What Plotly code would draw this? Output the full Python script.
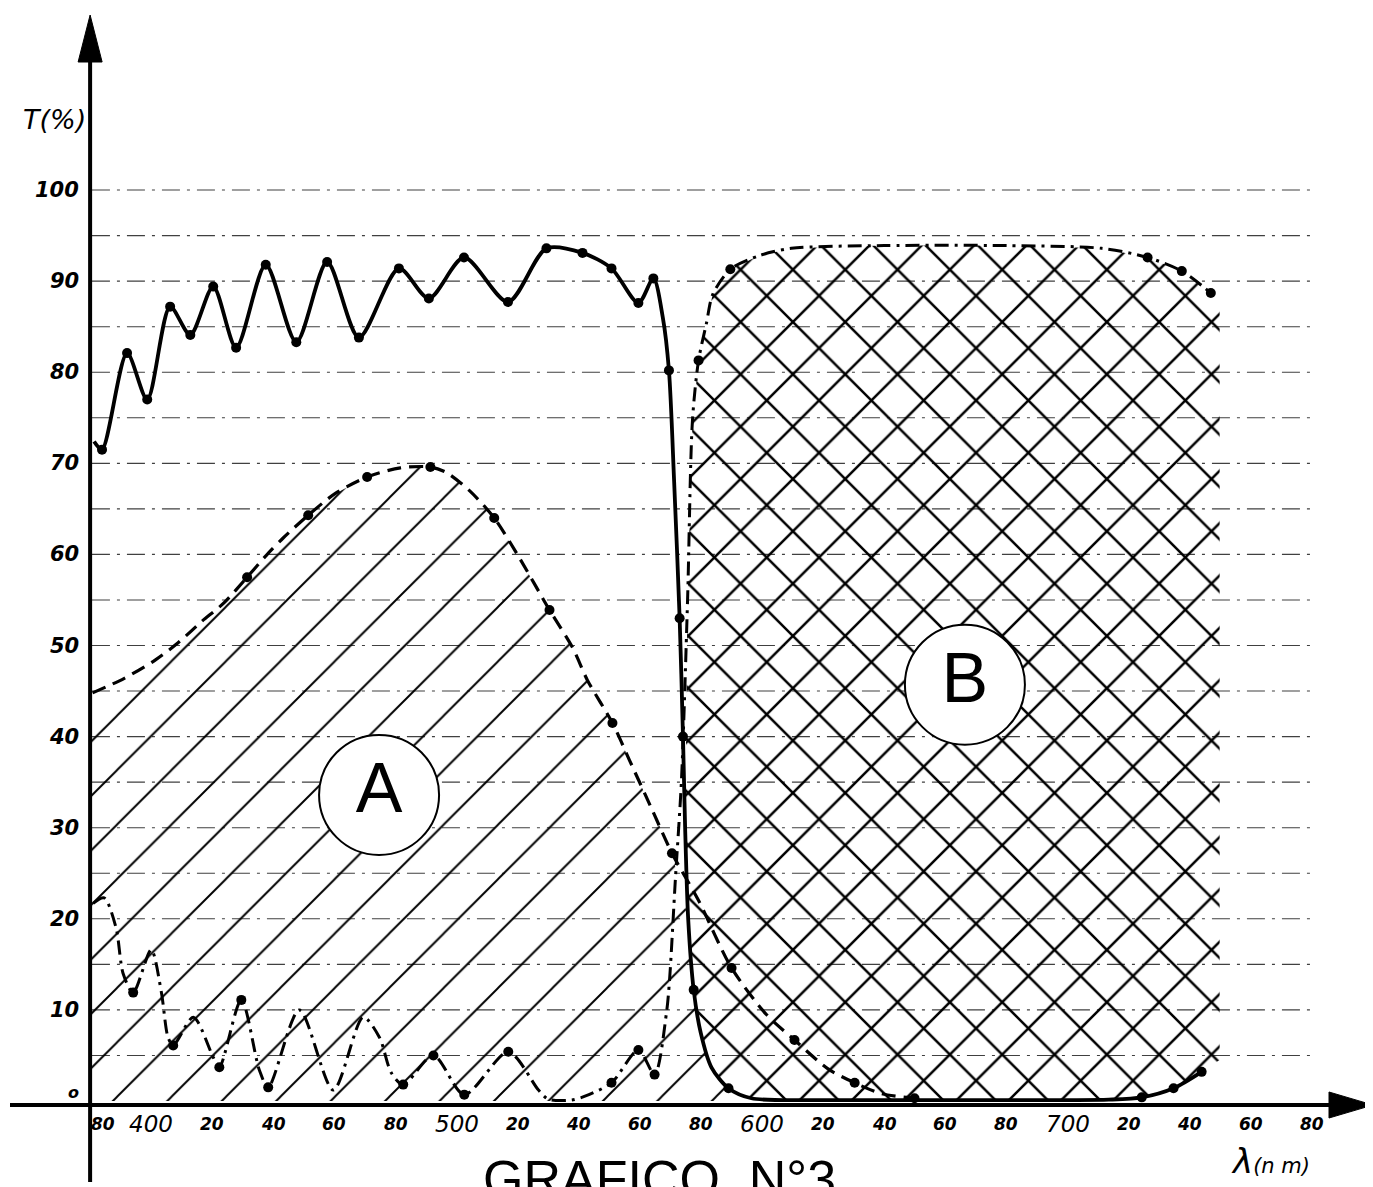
import plotly.graph_objects as go

# ---------------- data ----------------
x_tick_values = list(range(380, 781, 20))
x_tick_labels = ["80", "400", "20", "40", "60", "80", "500", "20", "40", "60", "80",
                 "600", "20", "40", "60", "80", "700", "20", "40", "60", "80"]
y_tick_values = [0, 10, 20, 30, 40, 50, 60, 70, 80, 90, 100]
y_tick_labels = ["o", "10", "20", "30", "40", "50", "60", "70", "80", "90", "100"]
grid_values = list(range(5, 101, 5))

# solid curve (high transmission, sharp cut near 575 nm)
solid_wl = [381.3, 383.9, 392.1, 398.7, 406.2, 412.8, 420.3, 427.8, 437.5, 447.5,
            457.6, 468.0, 481.1, 490.9, 502.4, 516.8, 529.4, 541.2, 550.7, 559.5,
            564.4, 567.5, 569.5, 571.2, 573.0, 574.1, 574.8, 575.8, 577.6, 579.9,
            583.4, 589.0, 596.5, 620.0, 660.0, 700.0, 713.5, 724.3, 734.7, 743.9]
solid_T = [72.4, 71.5, 82.1, 77.0, 87.2, 84.1, 89.4, 82.7, 91.8, 83.3,
           92.1, 83.8, 91.4, 88.1, 92.6, 87.7, 93.6, 93.1, 91.4, 87.6,
           90.3, 86.0, 80.2, 68.0, 53.0, 40.0, 30.0, 20.0, 12.2, 7.5,
           3.7, 1.4, 0.3, 0.1, 0.1, 0.1, 0.15, 0.4, 1.4, 3.2]
solid_pts_wl = [383.9, 392.1, 398.7, 406.2, 412.8, 420.3, 427.8, 437.5, 447.5, 457.6,
                468.0, 481.1, 490.9, 502.4, 516.8, 529.4, 541.2, 550.7, 559.5, 564.4,
                569.5, 573.0, 574.1, 577.6, 589.0, 724.3, 734.7, 743.9]
solid_pts_T = [71.5, 82.1, 77.0, 87.2, 84.1, 89.4, 82.7, 91.8, 83.3, 92.1,
               83.8, 91.4, 88.1, 92.6, 87.7, 93.6, 93.1, 91.4, 87.6, 90.3,
               80.2, 53.0, 40.0, 12.2, 1.4, 0.4, 1.4, 3.2]

# dashed curve (boundary of region A)
dashed_wl = [380.8, 391.2, 401.3, 408.8, 416.4, 423.9, 431.4, 437.7, 443.2, 451.4,
             460.3, 470.7, 481.6, 491.4, 496.6, 504.2, 512.3, 520.4, 530.4, 537.9,
             542.8, 551.0, 556.6, 564.1, 570.5, 579.2, 590.0, 601.4, 610.6, 621.7,
             630.3, 639.1, 649.9]
dashed_T = [44.8, 46.4, 48.4, 50.3, 52.6, 54.7, 57.5, 59.9, 61.8, 64.3,
            66.7, 68.5, 69.5, 69.6, 69.0, 67.0, 64.0, 59.7, 53.9, 49.8,
            46.2, 41.5, 37.4, 31.9, 27.2, 22.0, 14.6, 9.5, 6.7, 3.5,
            2.0, 0.8, 0.3]
dashed_pts_wl = [431.4, 451.4, 470.7, 491.4, 512.3, 530.4, 551.0, 570.5, 590.0, 610.6, 630.3, 649.9]
dashed_pts_T = [57.5, 64.3, 68.5, 69.6, 64.0, 53.9, 41.5, 27.2, 14.6, 6.7, 2.0, 0.3]

# dash-dot curve (boundary of region B)
dashdot_wl = [381.0, 384.6, 388.5, 390.8, 394.1, 400.0, 403.3, 405.5, 407.2, 413.8,
              420.3, 422.3, 429.5, 435.4, 438.3, 448.5, 459.6, 469.4, 474.7, 478.6,
              482.5, 492.4, 502.5, 516.9, 526.8, 530.0, 537.6, 541.8, 550.7, 559.5,
              564.8, 568.7, 569.7, 571.6, 573.6, 575.6, 577.2, 579.2, 581.8, 583.8,
              589.6, 599.1, 609.6, 640.0, 680.0, 711.2, 726.2, 737.4, 746.9]
dashdot_T = [21.7, 22.3, 19.0, 14.0, 11.9, 16.6, 12.0, 7.0, 6.1, 9.2,
             4.8, 3.7, 11.1, 3.4, 1.5, 10.0, 1.2, 9.2, 7.0, 3.1,
             1.8, 5.0, 0.7, 5.4, 1.2, 0.2, 0.1, 0.5, 2.0, 5.6,
             2.9, 9.7, 13.3, 24.3, 35.2, 55.0, 74.7, 81.3, 85.4, 88.5,
             91.3, 92.8, 93.6, 93.9, 93.9, 93.6, 92.6, 91.1, 88.7]
dashdot_pts_wl = [394.1, 407.2, 422.3, 429.5, 438.3, 482.5, 492.4, 502.5, 516.9, 550.7,
                  559.5, 564.8, 579.2, 589.6, 726.2, 737.4, 746.9]
dashdot_pts_T = [11.9, 6.1, 3.7, 11.1, 1.5, 1.8, 5.0, 0.7, 5.4, 2.0,
                 5.6, 2.9, 81.3, 91.3, 92.6, 91.1, 88.7]

# regions
region_labels = ["A", "B"]
region_center_wl = [474.6, 666.4]
region_center_T = [33.6, 45.7]
region_B_right_wl = 749.8

# ---------------- geometry of the sheet ----------------
# the page body adds an 8 px offset, so the figure is 8 px smaller on each side
PAGE_OFF = 8
W, H = 1373 - PAGE_OFF, 1187 - PAGE_OFF
PX_PER_NM = 3.0545
PX_PER_T = 9.1097
X_RANGE = [800.0 - W / PX_PER_NM, 800.0]
Y_RANGE = [-9.44, -9.44 + H / PX_PER_T]
px_wl = 1.0 / PX_PER_NM
px_T = 1.0 / PX_PER_T
AXIS_WL = 380.0
AXIS_T = -0.44


def T_at(screen_y):
    """T value displayed at a given screen row."""
    return Y_RANGE[1] - (screen_y - PAGE_OFF) * px_T


fig = go.Figure()

# ---- region A : polygon below dashed curve, closed along the solid cut ----
a_x = [AXIS_WL] + [w for w in dashed_wl if w <= 570.5]
a_y = [dashed_T[0]] + [t for w, t in zip(dashed_wl, dashed_T) if w <= 570.5]
tail = [(w, t) for w, t in zip(solid_wl, solid_T) if 575 < w <= 596.5]
a_x += [w for w, _ in tail] + [tail[-1][0], AXIS_WL]
a_y += [t for _, t in tail] + [0, 0]
fig.add_trace(go.Scatter(
    x=a_x, y=a_y, mode="lines", fill="toself", line=dict(width=0),
    fillcolor="rgba(0,0,0,0)", hoverinfo="skip", showlegend=False,
    fillpattern=dict(shape="/", size=38.5, solidity=0.05, fgcolor="black", fgopacity=1,
                     bgcolor="rgba(0,0,0,0)", fillmode="overlay")))

# ---- region B : polygon below dash-dot curve, right of the solid cut ----
top = [(w, t) for w, t in zip(dashdot_wl, dashdot_T) if w > 575]
bottom = [(w, t) for w, t in zip(solid_wl, solid_T) if w > 574.5]
b_x = [w for w, _ in top] + [region_B_right_wl, region_B_right_wl] + [w for w, _ in reversed(bottom)]
b_y = [t for _, t in top] + [dashdot_T[-1] - 1.0, bottom[-1][1] + 1.3] + [t for _, t in reversed(bottom)]
for hatch in ["/", "\\"]:
    fig.add_trace(go.Scatter(
        x=b_x, y=b_y, mode="lines", fill="toself", line=dict(width=0),
        fillcolor="rgba(0,0,0,0)", hoverinfo="skip", showlegend=False,
        fillpattern=dict(shape=hatch, size=37.0, solidity=0.068, fgcolor="black", fgopacity=1,
                         bgcolor="rgba(0,0,0,0)", fillmode="overlay")))

# ---- circles with region letters ----
fig.add_trace(go.Scatter(
    x=region_center_wl, y=region_center_T, mode="markers+text",
    text=region_labels, textposition="middle center",
    textfont=dict(family="Liberation Sans", size=70, color="black"),
    marker=dict(size=120, color="white", line=dict(color="black", width=2)),
    hoverinfo="skip", showlegend=False))

# ---- curves ----
fig.add_trace(go.Scatter(
    x=dashed_wl, y=dashed_T, mode="lines",
    line=dict(color="black", width=3.2, dash="14px,8px", shape="spline", smoothing=0.8),
    hoverinfo="skip", showlegend=False))
fig.add_trace(go.Scatter(
    x=dashdot_wl, y=dashdot_T, mode="lines",
    line=dict(color="black", width=3, dash="14px,6px,3px,6px", shape="spline", smoothing=0.8),
    hoverinfo="skip", showlegend=False))
fig.add_trace(go.Scatter(
    x=solid_wl, y=solid_T, mode="lines",
    line=dict(color="black", width=3.8, shape="spline", smoothing=0.8),
    hoverinfo="skip", showlegend=False))
for pw, pt in [(solid_pts_wl, solid_pts_T), (dashed_pts_wl, dashed_pts_T),
               (dashdot_pts_wl, dashdot_pts_T)]:
    fig.add_trace(go.Scatter(
        x=pw, y=pt, mode="markers", marker=dict(size=10, color="black"),
        hoverinfo="skip", showlegend=False))

# ---- grid lines ----
for g in grid_values:
    fig.add_shape(type="line", x0=AXIS_WL + 0.6, x1=779.4, y0=g, y1=g,
                  line=dict(color="#404040", width=1.1, dash="18px,7px,3px,7px"),
                  layer="below")

# ---- axes with arrows ----
y_tip = T_at(15)
y_base = T_at(62)
fig.add_shape(type="line", x0=AXIS_WL, x1=AXIS_WL, y0=T_at(1182), y1=y_base + 1,
              line=dict(color="black", width=4))
fig.add_shape(type="path",
              path=f"M {AXIS_WL - 12 * px_wl},{y_base} L {AXIS_WL},{y_tip} L {AXIS_WL + 12 * px_wl},{y_base} Z",
              fillcolor="black", line=dict(color="black", width=1))
x_tip = 800.0
x_base = x_tip - 44 * px_wl
fig.add_shape(type="line", x0=X_RANGE[0] + 2 * px_wl, x1=x_base + 0.5, y0=AXIS_T, y1=AXIS_T,
              line=dict(color="black", width=4))
fig.add_shape(type="path",
              path=f"M {x_base},{AXIS_T + 13 * px_T} L {x_tip},{AXIS_T} L {x_base},{AXIS_T - 13 * px_T} Z",
              fillcolor="black", line=dict(color="black", width=1))

# ---- tick labels ----
for v, t in zip(x_tick_values, x_tick_labels):
    big = len(t) == 3
    fig.add_annotation(
        x=v, y=AXIS_T - 19 * px_T, text=t, showarrow=False,
        xshift=13 if v == AXIS_WL else 0,
        font=dict(family="DejaVu Sans", size=23 if big else 17, color="black",
                  style="italic", weight="normal" if big else "bold"))
for v, t in zip(y_tick_values, y_tick_labels):
    fig.add_annotation(
        x=AXIS_WL, y=v + (0.9 if v == 0 else 0), text=t, showarrow=False,
        xanchor="right", xshift=-9,
        font=dict(family="DejaVu Sans", size=21 if v else 16, color="black",
                  style="italic", weight="bold"))

# axis names and title
fig.add_annotation(x=AXIS_WL, y=107.7, text="T(%)", showarrow=False, xanchor="right", xshift=-2,
                   font=dict(family="DejaVu Sans", size=27, color="black", style="italic"))
fig.add_annotation(x=766.3, y=-6.6, text="<span style='font-size:34px'>λ</span>(n m)", showarrow=False,
                   font=dict(family="DejaVu Sans", size=21, color="black", style="italic"))
fig.add_annotation(x=566.5, y=-5.2, text="GRAFICO  N°3", showarrow=False, yanchor="top",
                   font=dict(family="Liberation Sans", size=52, color="black"))

fig.update_layout(
    width=W, height=H, margin=dict(l=0, r=0, t=0, b=0),
    paper_bgcolor="white", plot_bgcolor="white",
    xaxis=dict(range=X_RANGE, visible=False, fixedrange=True),
    yaxis=dict(range=Y_RANGE, visible=False, fixedrange=True),
)

fig.write_html("out.html")
